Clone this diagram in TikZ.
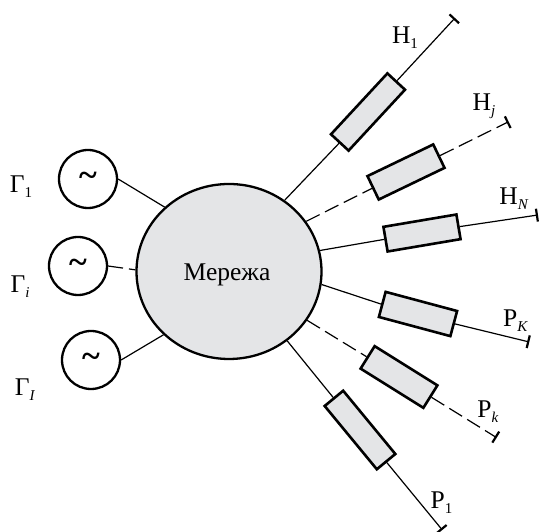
\documentclass[tikz,border=0pt]{standalone}
\usepackage{fontspec}
\setmainfont{Liberation Serif}
\usetikzlibrary{arrows.meta,shapes.geometric}
\definecolor{netgray}{HTML}{E4E5E7}
\newcommand{\sublbl}[2]{#1\raisebox{-5pt}{\fontsize{15}{15}\selectfont #2}}
\tikzset{
  gen/.style={circle, draw, line width=2.3pt, minimum size=58pt, inner sep=0pt, font=\fontsize{34}{34}\selectfont\bfseries},
  loadbox/.style={rectangle, draw, line width=2.6pt, fill=netgray, inner sep=0pt},
  link/.style={line width=1.2pt},
  dashlink/.style={line width=1.2pt, dash pattern=on 15pt off 6pt},
  ends/.style={-{Bar[width=13pt,line width=2.2pt]}},
  lbl/.style={inner sep=0pt, font=\fontsize{25.5}{25.5}\selectfont}
}
\begin{document}
\begin{tikzpicture}[x=1pt, y=1pt]
    \useasboundingbox (0,0) rectangle (539,532);

    % Network
    \node[ellipse, draw, line width=2.3pt, fill=netgray, minimum width=185pt, minimum height=175pt, inner sep=0pt] (net) at (229,260.5) {};
    \node[lbl] (netlbl) at (227,257) {Мережа};

    % Generators
    \node[gen] (gen1) at (88,353) {\textasciitilde};
    \node[gen] (geni) at (78,266) {\textasciitilde};
    \node[gen] (genI) at (91,172) {\textasciitilde};
    \draw[link] (gen1.east) -- (net.135.5);
    \draw[dashlink] (geni.east) -- (net.179);
    \draw[link] (genI.east) -- (net.224.5);

    % Load boxes
    \node[loadbox, minimum width=83pt, minimum height=24pt, rotate=47.2] (boxH1) at (368,420) {};
    \node[loadbox, minimum width=73pt, minimum height=26pt, rotate=25.7] (boxHj) at (406,360) {};
    \node[loadbox, minimum width=74pt, minimum height=25pt, rotate=9.6] (boxHN) at (422,299) {};
    \node[loadbox, minimum width=74pt, minimum height=26pt, rotate=-15] (boxPK) at (418,218) {};
    \node[loadbox, minimum width=74pt, minimum height=26.5pt, rotate=-32] (boxPk) at (399,155) {};
    \node[loadbox, minimum width=82pt, minimum height=24pt, rotate=-50.5] (boxP1) at (360,102) {};

    % Free ends of the lines
    \coordinate (endH1) at (455,514);
    \coordinate (endHj) at (508.7,410.3);
    \coordinate (endHN) at (538,317);
    \coordinate (endPK) at (529.3,190);
    \coordinate (endPk) at (496.7,94.3);
    \coordinate (endP1) at (442.3,2);

    % Lines from the network through the boxes
    \draw[link] (net.52.7) -- (boxH1.west);
    \draw[link, ends] (boxH1.east) -- (endH1);
    \draw[dashlink] (net.33.5) -- (boxHj.west);
    \draw[dashlink, ends] (boxHj.east) -- (endHj);
    \draw[link] (net.13.9) -- (boxHN.west);
    \draw[link, ends] (boxHN.east) -- (endHN);
    \draw[link] (net.-8.8) -- (boxPK.west);
    \draw[link, ends] (boxPK.east) -- (endPK);
    \draw[dashlink] (net.-32.1) -- (boxPk.west);
    \draw[dashlink, ends] (boxPk.east) -- (endPk);
    \draw[link] (net.-50.4) -- (boxP1.west);
    \draw[link, ends] (boxP1.east) -- (endP1);

    % Labels
    \node[lbl] (lblG1) at (21,345.5) {\sublbl{Г}{1}};
    \node[lbl] (lblGi) at (20,245) {\sublbl{Г}{\textit{i}}};
    \node[lbl] (lblGI) at (25,142) {\sublbl{Г}{\textit{I}}};
    \node[lbl] (lblH1) at (405,494) {\sublbl{Н}{1}};
    \node[lbl] (lblHj) at (484,426) {\sublbl{Н}{\textit{j}}};
    \node[lbl] (lblHN) at (514,333) {\sublbl{Н}{\textit{N}}};
    \node[lbl] (lblPK) at (515.5,211) {\sublbl{Р}{\textit{K}}};
    \node[lbl] (lblPk) at (488,120) {\sublbl{Р}{\textit{k}}};
    \node[lbl] (lblP1) at (441.5,29) {\sublbl{Р}{1}};
\end{tikzpicture}
\end{document}
